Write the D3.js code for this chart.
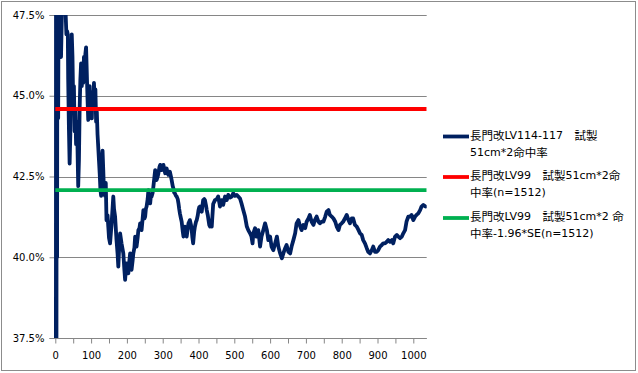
<!DOCTYPE html>
<html><head><meta charset="utf-8">
<script src="https://cdn.jsdelivr.net/npm/d3@7"></script>
<style>
html,body{margin:0;padding:0;background:#fff;}
svg{display:block;}
text{font-family:"DejaVu Sans","Noto Sans CJK JP",sans-serif;}
</style></head>
<body><svg id="chart" width="638" height="373"></svg>
<script>
// ---- data ----
const hitRatePoints = [
 [1,0],[2,50],[3,33],[4,50],[5,40],[6,50],[7,44.5],[8,44.3],[9,47.4],[10,50],[12,48],[14,47],[16,46.2],[18,47.3],[20,49],[24,48.5],[27,48],[29,47.5],[31,46.9],[33,47.0],[35,46.9],[36,45.5],[38,44.0],[40,42.9],[42,43.8],[44,45.8],[46,46.9],[48,46.2],[50,44.8],[52,45.3],[54,43.9],[56,44.6],[58,43.5],[60,44.2],[62,43.4],[64,42.2],[66,43.0],[68,44.6],[70,45.5],[72,46.0],[74,45.3],[76,45.9],[78,45.4],[80,46.2],[82,45.6],[84,46.3],[86,46.5],[88,45.7],[90,44.9],[92,44.25],[94,44.8],[96,45.3],[98,44.5],[100,45.0],[102,44.3],[104,45.1],[106,44.6],[108,45.4],[110,44.8],[112,45.2],[114,44.2],[116,44.5],[118,43.8],[120,43.4],[122,43.0],[124,42.6],[126,42.1],[128,41.9],[130,43.0],[132,43.3],[134,42.7],[136,42.0],[139,41.9],[141,42.3],[143,41.15],
 [146,41.3],[150,40.6],[153,40.43],[157,41.0],[162,41.88],[164,41.5],[167,41.26],[171,40.53],[174,40.1],[176,39.71],[178,40.2],[181,40.74],[185,40.43],[190,40.12],[193,39.6],[195,39.3],[197,39.6],[199,39.81],[202,39.5],[204,39.5],[207,39.9],[209,40.12],[211,39.7],[213,39.61],[216,39.9],[218,40.12],[221,40.3],[223,40.64],[225,40.4],[227,40.33],[230,40.6],[232,40.84],[235,40.9],[237,41.05],[239,40.9],[241,40.84],[244,41.2],[246,41.46],[249,41.2],[251,41.26],[253,41.5],[255,41.57],[258,41.8],[260,42.08],[263,41.8],[265,41.67],[267,41.9],[269,41.88],[272,42.0],[274,42.19],[277,42.5],[279,42.7],[281,42.5],[283,42.39],[286,42.5],[288,42.6],[291,42.8],[293,42.86],[295,42.7],[297,42.7],[300,42.8],[302,42.86],[305,42.7],[307,42.6],[309,42.7],[311,42.75],[314,42.6],[316,42.55],[318,42.6],[320,42.65],[323,42.5],[325,42.39],[328,42.2],[330,42.13],[332,42.0],[334,41.98],[337,41.9],[339,41.88],[342,41.8],[344,41.67],[346,41.5],[348,41.36],[351,41.2],[353,41.1],[356,40.8],[358,40.64],[360,40.8],[362,40.95],[365,40.8],[367,40.64],[370,40.9],[372,41.05],[374,41.1],[376,41.15],[379,41.0],[381,40.84],[383,40.6],[385,40.43],[388,40.8],[390,40.95],[393,41.1],[395,41.15],[398,41.3],[400,41.46],[402,41.55],[404,41.57],[407,41.5],[409,41.41],[411,41.6],[413,41.77],[416,41.8],[418,41.77],[421,41.6],[423,41.46],[426,41.3],[428,41.15],[430,41.0],[432,40.95],[435,41.1],[437,40.95],
 [441,41.65],[446,41.77],[451,41.8],[455,41.88],[460,41.57],[465,41.77],[469,41.62],[474,41.88],[479,41.77],[483,41.93],[488,41.85],[493,41.88],[497,41.98],[502,41.9],[507,41.93],[511,41.88],[516,41.82],[520,41.67],[525,41.46],[530,41.26],[535,40.95],[539,40.84],[544,40.74],[548,40.64],[551,40.43],[553,40.74],[558,40.9],[562,40.64],[567,40.84],[572,40.33],[576,40.64],[581,40.84],[586,41.05],[591,40.84],[595,40.53],[600,40.64],[604,40.33],[609,40.22],[614,40.43],[619,40.64],[623,40.33],[628,40.12],[633,39.97],[637,40.12],[642,40.28],[646,40.38],[651,40.17],[656,40.12],[660,40.33],[665,40.53],[670,40.74],[674,41.05],[679,41.15],[684,40.95],[688,40.84],[693,41.0],[698,40.9],[702,41.1],[707,41.2],[711,41.31],[716,41.1],[721,41.0],[725,41.15],[730,41.26],[735,41.1],[739,41.05],[744,41.1],[749,41.1],[754,41.26],[758,41.41],[763,41.46],[767,41.31],[772,41.26],[777,41.2],[782,41.1],[786,40.95],[791,40.84],[795,41.0],[800,41.05],[804,41.1],[809,41.2],[814,41.31],[819,41.15],[823,41.05],[828,41.2],[832,41.2],[837,41.0],[842,40.95],[847,40.84],[851,40.74],[856,40.69],[860,40.53],[865,40.43],[870,40.28],[874,40.17],[879,40.12],[884,40.22],[888,40.33],[893,40.17],[898,40.17],[902,40.22],[907,40.33],[912,40.38],[916,40.43],[921,40.43],[926,40.48],[930,40.53],[935,40.48],[940,40.53],[944,40.43],[949,40.64],[954,40.69],[958,40.64],[963,40.59],[968,40.64],[972,40.74],[977,40.84],[981,41.1],[986,41.26],[991,41.26],[995,41.31],[1000,41.15],[1005,41.26],[1009,41.31],[1014,41.36],[1019,41.46],[1023,41.57],[1028,41.62],[1034,41.57]
];
const lv99Rate = 44.59;
const lv99Lower = 42.08;
const yTickValues = [37.5, 40.0, 42.5, 45.0, 47.5];
const xTickValues = d3.range(0, 1001, 50);
const xLabelValues = [0,100,200,300,400,500,600,700,800,900,1000];
const legendLines = [
  ["長門改LV114-117　試製", "51cm*2命中率"],
  ["長門改LV99　試製51cm*2命", "中率(n=1512)"],
  ["長門改LV99　試製51cm*2 命", "中率-1.96*SE(n=1512)"]
];
const seriesColors = ["#002060", "#ff0000", "#00b050"];

// ---- chart ----
const svg = d3.select("#chart");
svg.append("rect").attr("x",1.5).attr("y",1.5).attr("width",634).attr("height",369)
  .attr("fill","#fff").attr("stroke","#8c8c8c").attr("stroke-width",1);

const x = d3.scaleLinear().domain([0, 1037.4]).range([55.3, 426.7]);
const y = d3.scaleLinear().domain([37.5, 47.5]).range([338, 15]);

// gridlines
svg.append("g").selectAll("line").data(yTickValues).join("line")
  .attr("x1", x(0)).attr("x2", x.range()[1])
  .attr("y1", d => Math.round(y(d))+0.5).attr("y2", d => Math.round(y(d))+0.5)
  .attr("stroke", "#868686").attr("stroke-width", 1);

// y axis
const yAxis = svg.append("g").attr("transform", `translate(${Math.round(x(0))+0.5},0)`)
  .call(d3.axisLeft(y).tickValues(yTickValues).tickFormat(d => d.toFixed(1) + "%").tickSize(6).tickPadding(5));
yAxis.select(".domain").attr("stroke","#868686");
yAxis.selectAll(".tick line").attr("stroke","#868686");
yAxis.selectAll("text").attr("font-size","10px").attr("fill","#000")
  .attr("font-family","DejaVu Sans");

// x axis
const xAxis = svg.append("g").attr("transform", `translate(0,${Math.round(y(37.5))+0.5})`)
  .call(d3.axisBottom(x).tickValues(xTickValues)
    .tickFormat(d => xLabelValues.includes(d) ? String(d) : "").tickSize(5).tickPadding(8));
xAxis.select(".domain").attr("stroke","#868686").attr("d", `M${x(0)},0H${x.range()[1]}`);
xAxis.selectAll(".tick line").attr("stroke","#868686");
xAxis.selectAll("text").attr("font-size","10px").attr("fill","#000")
  .attr("font-family","DejaVu Sans");

// clip
svg.append("clipPath").attr("id","plotclip").append("rect")
  .attr("x", x(0)-3).attr("y", y(47.5)).attr("width", x.range()[1]-x(0)+3).attr("height", y(37.5)-y(47.5));

const plot = svg.append("g").attr("clip-path","url(#plotclip)");
const line = d3.line().x(d => x(d[0])).y(d => y(d[1]));
plot.append("path").datum(hitRatePoints).attr("d", line)
  .attr("fill","none").attr("stroke", seriesColors[0]).attr("stroke-width", 3.8)
  .attr("stroke-linejoin","round").attr("stroke-linecap","round");

[lv99Rate, lv99Lower].forEach((v, i) => {
  plot.append("path").datum([[0, v],[1037.4, v]]).attr("d", line)
    .attr("fill","none").attr("stroke", seriesColors[i+1]).attr("stroke-width", 3.8);
});

// legend
const isCJK = ch => /[\u3000-\u9fff\uff00-\uffef]/.test(ch);
function addRuns(textSel, str) {
  const runs = [];
  for (const ch of str) {
    const c = isCJK(ch);
    if (runs.length && runs[runs.length-1].c === c) runs[runs.length-1].s += ch;
    else runs.push({c, s: ch});
  }
  runs.forEach(r => {
    textSel.append("tspan").text(r.s)
      .attr("font-family", r.c ? "Noto Sans CJK JP" : "DejaVu Sans")
      .attr("font-size", r.c ? "11.5px" : "11px");
  });
}
const legendY = [136.5, 177, 218];
legendLines.forEach((lines, i) => {
  const g = svg.append("g");
  g.append("line").attr("x1", 443).attr("x2", 469).attr("y1", legendY[i]).attr("y2", legendY[i])
    .attr("stroke", seriesColors[i]).attr("stroke-width", 3.8);
  lines.forEach((ln, j) => {
    const t = g.append("text").attr("x", 470).attr("y", legendY[i] - 2 + j*17)
      .attr("dominant-baseline","central").attr("fill","#000").attr("xml:space","preserve");
    addRuns(t, ln);
  });
});
</script></body></html>
